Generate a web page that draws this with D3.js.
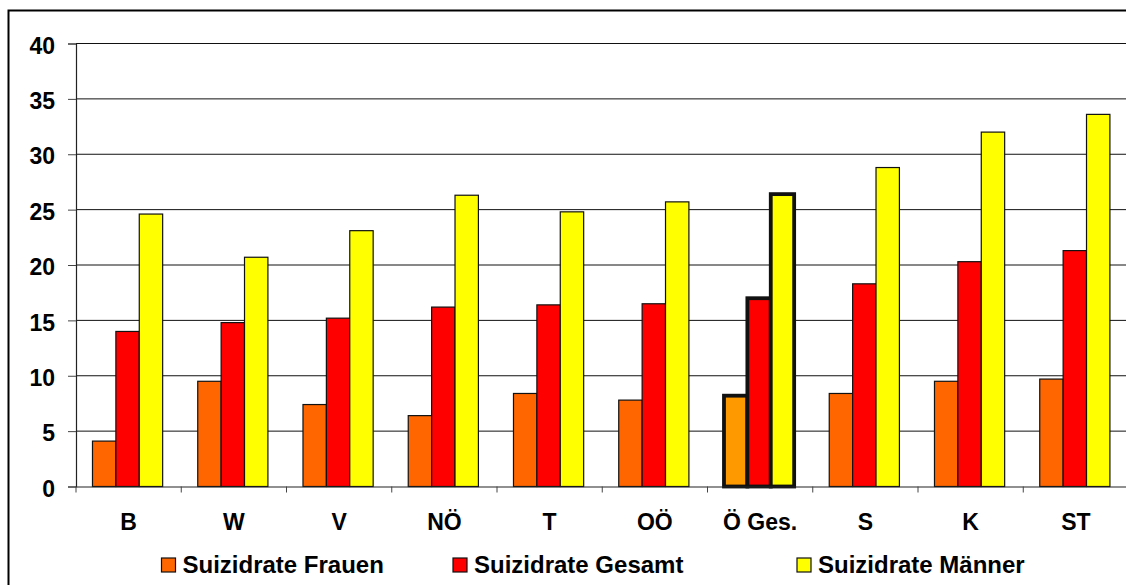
<!DOCTYPE html>
<html>
<head>
<meta charset="utf-8">
<script src="https://cdn.jsdelivr.net/npm/d3@7/dist/d3.min.js"></script>
<style>
  html, body { margin: 0; padding: 0; background: #fff; }
  svg { display: block; }
  text { font-family: "Liberation Sans", Arial, sans-serif; font-weight: bold; fill: #000; }
</style>
</head>
<body>
<svg id="chart" width="1126" height="585"></svg>
<script>
// Suizidraten je Bundesland (pro 100.000 Einwohner)
const categories = ["B", "W", "V", "NÖ", "T", "OÖ", "Ö Ges.", "S", "K", "ST"];
const seriesNames = ["Suizidrate Frauen", "Suizidrate Gesamt", "Suizidrate Männer"];
const frauen = [4.1, 9.5, 7.4, 6.4, 8.4, 7.8, 8.2, 8.4, 9.5, 9.7];
const gesamt = [14.0, 14.8, 15.2, 16.2, 16.4, 16.5, 17.0, 18.3, 20.3, 21.3];
const maenner = [24.6, 20.7, 23.1, 26.3, 24.8, 25.7, 26.4, 28.8, 32.0, 33.6];
const yTicks = [0, 5, 10, 15, 20, 25, 30, 35, 40];
const highlight = "Ö Ges.";

const colors = ["#FF6600", "#FF0000", "#FFFF00"];
const highlightColors = ["#FF9900", "#FF0000", "#FFFF00"];
const values = [frauen, gesamt, maenner];

const svg = d3.select("#chart");

// frame around the chart
svg.append("rect")
  .attr("x", 8.5).attr("y", 10.5)
  .attr("width", 1200).attr("height", 700)
  .attr("fill", "none").attr("stroke", "#000").attr("stroke-width", 2);

const plot = { left: 76, right: 1128.5, top: 43.5, bottom: 486.5 };

const x = d3.scaleBand().domain(categories).range([plot.left, plot.right]).paddingInner(0).paddingOuter(0);
const xs = d3.scaleBand().domain(seriesNames).range([0, x.bandwidth()])
  .paddingInner(0).paddingOuter(0.75).align(0.47);
const y = d3.scaleLinear().domain([0, 40]).range([plot.bottom, plot.top]);

// horizontal gridlines
svg.append("g").selectAll("line")
  .data(yTicks.filter(d => d > 0))
  .join("line")
  .attr("x1", plot.left).attr("x2", 1126)
  .attr("y1", d => y(d)).attr("y2", d => y(d))
  .attr("stroke", "#111").attr("stroke-width", 1);

// y axis
const yAxis = svg.append("g")
  .attr("transform", `translate(${plot.left},0)`)
  .call(d3.axisLeft(y).tickValues(yTicks).tickSize(8).tickPadding(13).tickFormat(d3.format("d")));
yAxis.select(".domain").attr("stroke", "#222").attr("stroke-width", 1.2);
yAxis.selectAll(".tick line").attr("stroke", "#444");
yAxis.selectAll(".tick text")
  .attr("font-size", 23).attr("font-family", "Liberation Sans, Arial, sans-serif")
  .attr("font-weight", "bold").attr("fill", "#000").attr("dy", "0.42em");

// bars
const groups = svg.append("g").selectAll("g")
  .data(categories)
  .join("g")
  .attr("transform", d => `translate(${x(d)},0)`);

groups.selectAll("rect")
  .data((c, i) => seriesNames.map((s, k) => ({ cat: c, series: s, k, value: values[k][i] })))
  .join("rect")
  .attr("x", d => xs(d.series))
  .attr("width", xs.bandwidth())
  .attr("y", d => y(d.value))
  .attr("height", d => y(0) - y(d.value))
  .attr("fill", d => d.cat === highlight ? highlightColors[d.k] : colors[d.k])
  .attr("stroke", "#111")
  .attr("stroke-width", d => d.cat === highlight ? 3.8 : 1.2);

// x axis
const xAxis = svg.append("g")
  .attr("transform", `translate(0,${plot.bottom})`)
  .call(d3.axisBottom(x).tickSize(0).tickPadding(27));
xAxis.select(".domain").attr("stroke", "#222").attr("stroke-width", 1.2);
xAxis.selectAll(".tick text")
  .attr("font-size", 23).attr("font-family", "Liberation Sans, Arial, sans-serif")
  .attr("font-weight", "bold").attr("fill", "#000");

// category separator ticks
svg.append("g").selectAll("line")
  .data(categories)
  .join("line")
  .attr("x1", d => x(d)).attr("x2", d => x(d))
  .attr("y1", plot.bottom).attr("y2", plot.bottom + 6)
  .attr("stroke", "#444").attr("stroke-width", 1);

// legend
const legendX = [161.5, 453, 797];
const legend = svg.append("g").selectAll("g")
  .data(seriesNames)
  .join("g")
  .attr("transform", (d, i) => `translate(${legendX[i]},558)`);
legend.append("rect")
  .attr("width", 14).attr("height", 14)
  .attr("fill", (d, i) => colors[i])
  .attr("stroke", "#111").attr("stroke-width", 1.2);
legend.append("text")
  .attr("x", 21).attr("y", 14.5)
  .attr("font-size", 24)
  .text(d => d);
</script>
</body>
</html>
